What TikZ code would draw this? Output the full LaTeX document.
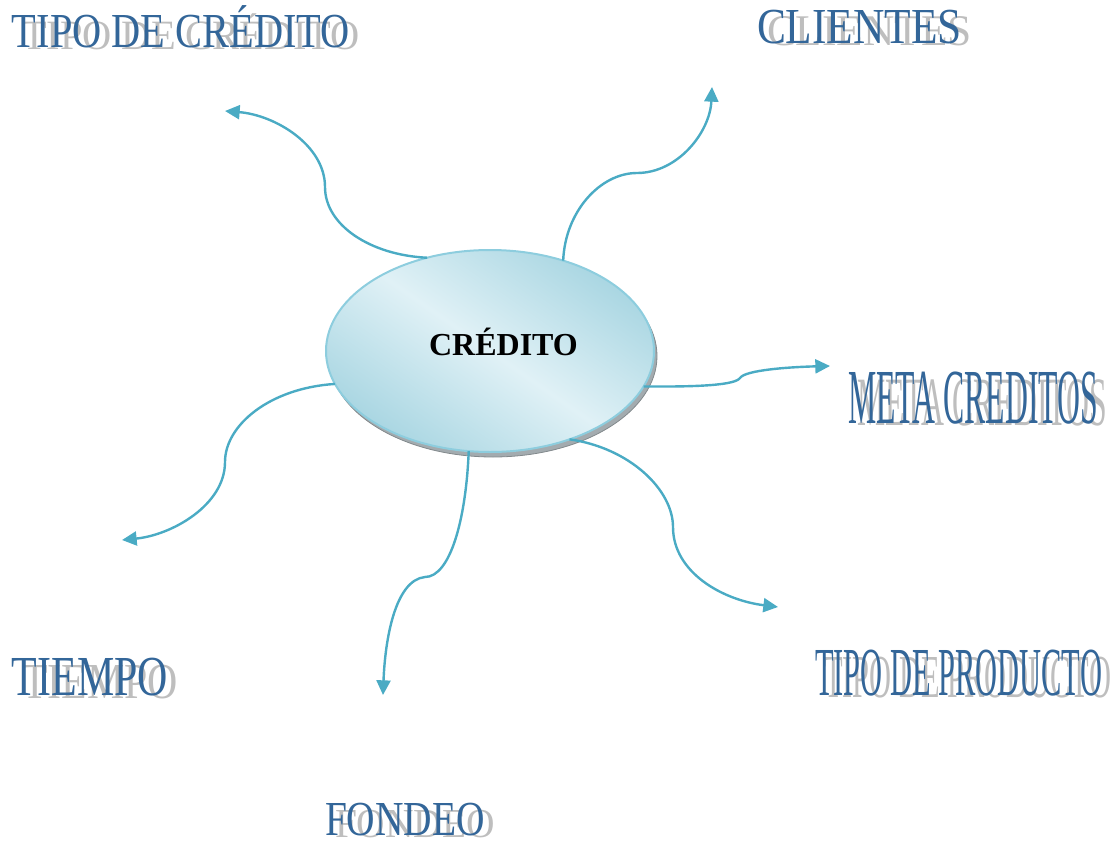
\documentclass[tikz,border=0pt]{standalone}
\usepackage{fontspec}
\setmainfont{Liberation Serif}
\usetikzlibrary{arrows.meta,shapes.geometric}
\definecolor{wblue}{HTML}{336699}
\definecolor{wshadow}{HTML}{BEBEBE}
\definecolor{conncol}{HTML}{4AABC4}
\definecolor{elldark}{HTML}{A9D6E2}
\definecolor{elllight}{HTML}{E0F1F6}
\definecolor{ellline}{HTML}{8DCDDE}
\definecolor{ellshadow}{HTML}{A3ABAF}
\newcommand\wabox[3]{\resizebox{#1}{#2}{\raisebox{0pt}[\fontcharht\font`T][0pt]{#3}}}
\tikzset{
  wa/.style={anchor=north west, inner sep=0pt, outer sep=0pt, text=wblue},
  wash/.style={anchor=north west, inner sep=0pt, outer sep=0pt, text=wshadow},
  connector/.style={draw=conncol, line width=1.8pt, -{Triangle[length=11pt,width=10.5pt]}},
  ellbase/.style={ellipse, minimum width=246pt, minimum height=151.5pt, inner sep=0pt, outer sep=0pt},
}
\begin{document}
\begin{tikzpicture}[x=0.75pt,y=-0.75pt]
\useasboundingbox (0,0) rectangle (1117,842);

% central ellipse
\node[ellbase, fill=ellshadow, draw=ellshadow!80!black, line width=0.6pt] (crs) at (493,356) {};
\node[ellbase, top color=elldark, bottom color=elldark, middle color=elllight,
      shading angle=-35, draw=ellline, line width=1.5pt] (cr) at (490,351) {};
\node[anchor=base, inner sep=0pt, font=\fontsize{24}{28}\selectfont\bfseries] (crt) at (503.5,355) {CRÉDITO};

% label shadows
\node[wash] (l1s) at (22,22) {\wabox{253.5pt}{20.5pt}{TIPO DE CRÉDITO}};
\node[wash] (l2s) at (767,17) {\wabox{153.75pt}{21.5pt}{CLIENTES}};
\node[wash] (l3s) at (857,380) {\wabox{187.5pt}{34pt}{META CREDITOS}};
\node[wash] (l4s) at (824,657) {\wabox{215.25pt}{30pt}{TIPO DE PRODUCTO}};
\node[wash] (l5s) at (22,665) {\wabox{117pt}{24.75pt}{TIEMPO}};
\node[wash] (l6s) at (335,810) {\wabox{120pt}{20.25pt}{FONDEO}};

% labels
\node[wa] (l1) at (12,15) {\wabox{253.5pt}{24pt}{TIPO DE CRÉDITO}};
\node[wa] (l2) at (757,10) {\wabox{153.75pt}{24.75pt}{CLIENTES}};
\node[wa] (l3) at (848,372) {\wabox{187.5pt}{38.25pt}{META CREDITOS}};
\node[wa] (l4) at (815,650) {\wabox{215.25pt}{33.75pt}{TIPO DE PRODUCTO}};
\node[wa] (l5) at (12,658) {\wabox{117pt}{27.75pt}{TIEMPO}};
\node[wa] (l6) at (325,803) {\wabox{120pt}{24pt}{FONDEO}};

% arrow tips
\coordinate (t1) at (225,111);
\coordinate (t2) at (712,87);
\coordinate (t3) at (830,366);
\coordinate (t4) at (778,607);
\coordinate (t5) at (383,695);
\coordinate (t6) at (122,540);

% connectors
\draw[connector] (cr.124) .. controls (370,255) and (325,225) .. (325,187)
                 .. controls (325,145) and (275,115) .. (t1);
\draw[connector] (cr.51) .. controls (565,212) and (600,173) .. (637,173)
                 .. controls (678,173) and (710,132) .. (t2);
\draw[connector] (cr.-13) .. controls (700,387) and (735,385) .. (740,378)
                 .. controls (745,370) and (790,367) .. (t3);
\draw[connector] (cr.-48) .. controls (630,448) and (673,490) .. (673,527)
                 .. controls (673,572) and (722,600) .. (t4);
\draw[connector] (cr.-102) .. controls (466,520) and (450,577) .. (425,577)
                 .. controls (395,580) and (385,640) .. (t5);
\draw[connector] (cr.192) .. controls (270,388) and (225,425) .. (225,462)
                 .. controls (225,505) and (172,535) .. (t6);
\end{tikzpicture}
\end{document}
